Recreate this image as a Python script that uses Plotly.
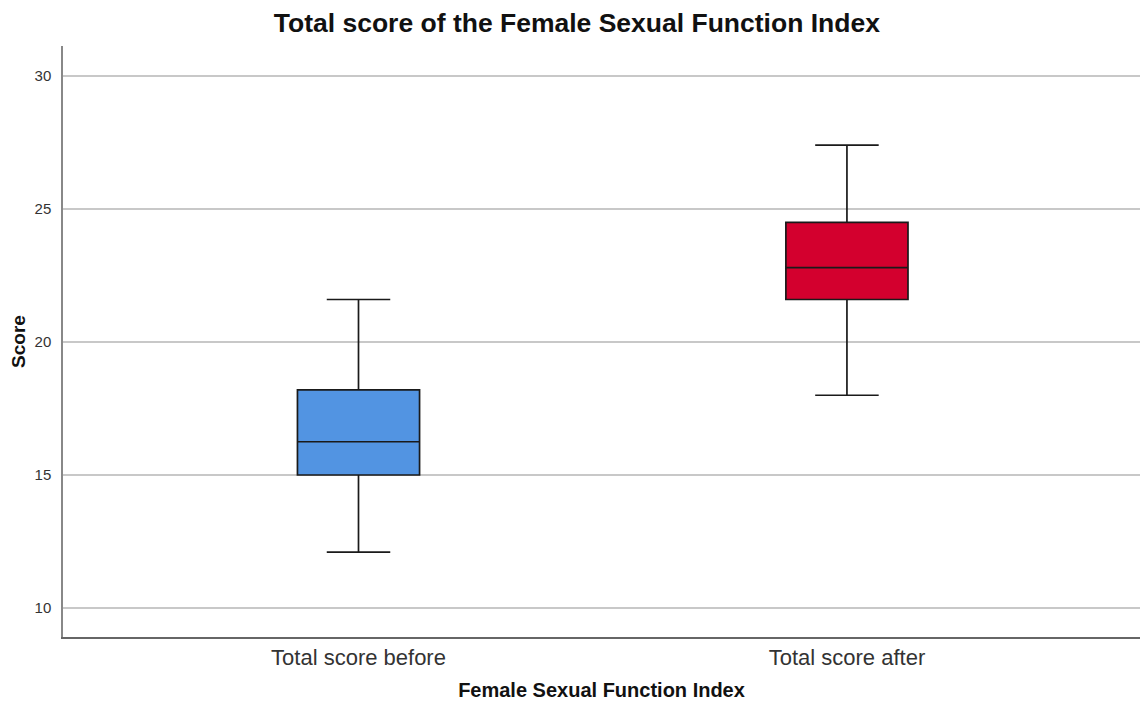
import plotly.graph_objects as go

categories = ["Total score before", "Total score after"]
lower = [12.1, 18.0]
q1 = [15.0, 21.6]
median = [16.25, 22.8]
q3 = [18.2, 24.5]
upper = [21.6, 27.4]
colors = ["#5294E2", "#D3002E"]

fig = go.Figure()
for i, cat in enumerate(categories):
    fig.add_trace(go.Box(
        x=[cat], q1=[q1[i]], median=[median[i]], q3=[q3[i]],
        lowerfence=[lower[i]], upperfence=[upper[i]],
        fillcolor=colors[i], line=dict(color="#1a1a1a", width=1.7),
        width=0.25, whiskerwidth=0.52, showlegend=False, boxpoints=False,
    ))

fig.update_layout(
    width=1140, height=703,
    margin=dict(l=63, r=0, t=46, b=66),
    paper_bgcolor="white", plot_bgcolor="white",
    boxmode="overlay",
    font=dict(family="Liberation Sans, Arial, sans-serif", color="#222"),
    title=dict(text="<b>Total score of the Female Sexual Function Index</b>",
               x=0.506, xanchor="center", y=0.968, yanchor="middle",
               font=dict(size=26.5, color="#111")),
    xaxis=dict(
        type="category", categoryorder="array", categoryarray=categories,
        range=[-0.605, 1.6], showgrid=False, showline=True,
        linecolor="#666", linewidth=2, ticks="", zeroline=False,
        tickfont=dict(size=22, color="#333"),
        title=dict(text="<b>Female Sexual Function Index</b>", standoff=14,
                   font=dict(size=20, color="#111")),
    ),
    yaxis=dict(
        range=[8.91, 31.13], tickvals=[10, 15, 20, 25, 30],
        showgrid=True, gridcolor="#c8c8c8", gridwidth=1.5,
        showline=True, linecolor="#888", linewidth=1.5, ticks="",
        zeroline=False, tickfont=dict(size=15, color="#333"),
        ticklabelstandoff=7,
        title=dict(text="<b>Score</b>", standoff=4,
                   font=dict(size=19, color="#111")),
    ),
)

fig.write_html("out.html", post_script="document.body.style.margin='0';",
               config={"displayModeBar": False})
